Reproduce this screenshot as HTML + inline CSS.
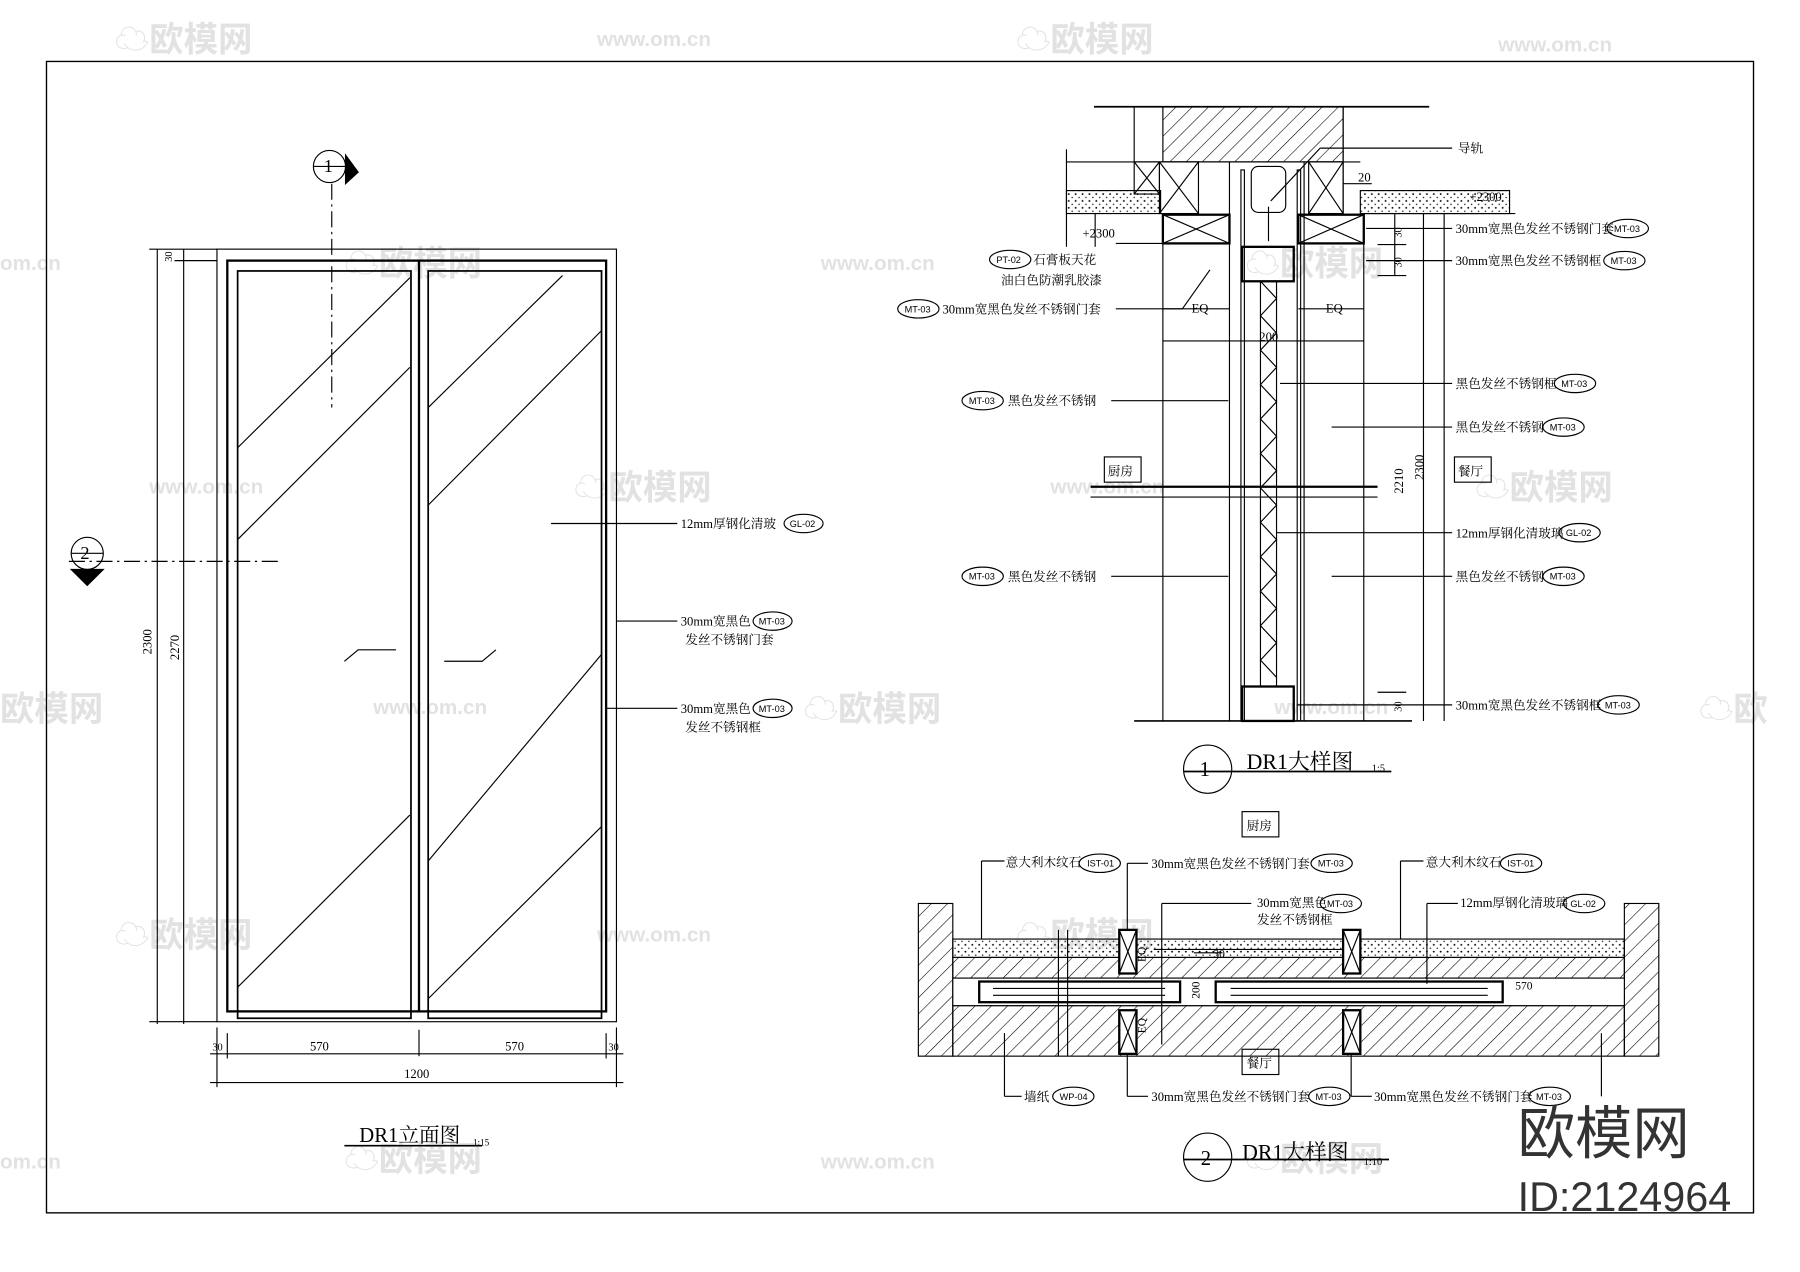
<!DOCTYPE html>
<html><head><meta charset="utf-8"><style>
html,body{margin:0;padding:0;background:#fff;}
svg{display:block;}
text{font-family:"Liberation Serif","Noto Serif CJK SC","Noto Sans CJK SC",serif;fill:#000;}
.wm text{fill:#e2e2e2;font-family:"Liberation Sans","Noto Sans CJK SC",sans-serif;font-weight:bold;}
.lab text{font-family:"Liberation Sans",sans-serif;}
.brand{font-family:"Liberation Sans","Noto Sans CJK SC",sans-serif !important;fill:#333 !important;}
</style></head><body>
<svg width="1800" height="1272" viewBox="0 0 1568 1108" xmlns="http://www.w3.org/2000/svg">
<defs>
<pattern id="h" width="10" height="10" patternUnits="userSpaceOnUse" patternTransform="rotate(45)"><line x1="0" y1="0" x2="0" y2="10" stroke="#000" stroke-width="1"/></pattern>
<pattern id="d" width="6" height="6" patternUnits="userSpaceOnUse"><circle cx="1" cy="1" r="0.8" fill="#000"/><circle cx="4" cy="4" r="0.6" fill="#000"/></pattern>
</defs>
<rect width="1568" height="1108" fill="#fff"/>
<!-- watermarks -->
<g class="wm" font-size="30">
<text x="100" y="45">☁欧模网</text><text x="885" y="45">☁欧模网</text><text x="1305" y="45" font-size="18">www.om.cn</text><text x="520" y="40" font-size="18">www.om.cn</text>
<text x="300" y="240">☁欧模网</text><text x="1085" y="240">☁欧模网</text><text x="0" y="235" font-size="18">om.cn</text><text x="715" y="235" font-size="18">www.om.cn</text>
<text x="500" y="435">☁欧模网</text><text x="1285" y="435">☁欧模网</text><text x="130" y="430" font-size="18">www.om.cn</text><text x="915" y="430" font-size="18">www.om.cn</text>
<text x="0" y="628">欧模网</text><text x="700" y="628">☁欧模网</text><text x="1480" y="628">☁欧</text><text x="325" y="622" font-size="18">www.om.cn</text><text x="1110" y="622" font-size="18">www.om.cn</text>
<text x="100" y="825">☁欧模网</text><text x="885" y="825">☁欧模网</text><text x="520" y="820" font-size="18">www.om.cn</text>
<text x="300" y="1020">☁欧模网</text><text x="1085" y="1020">☁欧模网</text><text x="0" y="1018" font-size="18">om.cn</text><text x="715" y="1018" font-size="18">www.om.cn</text>
</g>
<rect x="40.5" y="53.5" width="1487" height="1003" fill="none" stroke="#000" stroke-width="1.2"/>

<g stroke="#000" fill="none" stroke-width="1">
<!-- Left elevation -->
<rect x="189" y="217" width="348" height="673"/>
<rect x="198" y="227" width="330" height="654" stroke-width="2"/>
<rect x="207" y="236" width="151" height="651" stroke-width="1.5"/>
<rect x="373" y="236" width="151" height="651" stroke-width="1.5"/>
<line x1="365" y1="227" x2="365" y2="881" stroke-width="2"/>
<line x1="207" y1="390" x2="357" y2="242"/><line x1="207" y1="470" x2="357" y2="320"/><line x1="207" y1="860" x2="357" y2="710"/>
<line x1="373" y1="355" x2="490" y2="240"/><line x1="373" y1="440" x2="524" y2="288"/><line x1="373" y1="750" x2="524" y2="570"/><line x1="373" y1="870" x2="524" y2="720"/>
<polyline points="300,576 312,566 345,566"/><polyline points="387,576 420,576 432,566" />
<line x1="289" y1="160" x2="289" y2="355" stroke-dasharray="14,4,2,4"/>
<line x1="60" y1="489" x2="245" y2="489" stroke-dasharray="14,4,2,4"/>
<circle cx="287" cy="145" r="14"/><line x1="273" y1="145" x2="301" y2="145"/><polygon points="301,135 312,150 301,160" fill="#000"/>
<circle cx="76" cy="482" r="14"/><line x1="62" y1="482" x2="90" y2="482"/><polygon points="62,496 90,496 76,510" fill="#000"/>
<line x1="137" y1="217" x2="137" y2="892"/><line x1="160" y1="217" x2="160" y2="892"/>
<line x1="130" y1="217" x2="189" y2="217"/><line x1="152" y1="227" x2="189" y2="227"/><line x1="130" y1="890" x2="189" y2="890"/>
<line x1="189" y1="895" x2="189" y2="947"/><line x1="537" y1="895" x2="537" y2="947"/><line x1="365" y1="897" x2="365" y2="920"/>
<line x1="183" y1="918" x2="543" y2="918"/><line x1="183" y1="943" x2="543" y2="943"/>
<line x1="198" y1="900" x2="198" y2="922"/><line x1="528" y1="900" x2="528" y2="922"/>
<line x1="300" y1="998" x2="420" y2="998" stroke-width="1.5"/>
<line x1="480" y1="456" x2="590" y2="456"/><line x1="537" y1="541" x2="590" y2="541"/><line x1="527" y1="617" x2="590" y2="617"/>
</g>
<g font-size="11">
<text x="150" y="228" font-size="9" transform="rotate(-90 150 228)">30</text>
<text x="132" y="570" transform="rotate(-90 132 570)">2300</text><text x="156" y="575" transform="rotate(-90 156 575)">2270</text>
<text x="270" y="915">570</text><text x="440" y="915">570</text><text x="352" y="939">1200</text>
<text x="185" y="915" font-size="9">30</text><text x="530" y="915" font-size="9">30</text>
<text x="593" y="460">12mm厚钢化清玻</text><text x="593" y="545">30mm宽黑色</text><text x="597" y="561">发丝不锈钢门套</text>
<text x="593" y="621">30mm宽黑色</text><text x="597" y="637">发丝不锈钢框</text>
<text x="282" y="150" font-size="16">1</text><text x="70" y="487" font-size="16">2</text>
<text x="313" y="995" font-size="18">DR1立面图</text><text x="412" y="998" font-size="8">1:15</text>
</g>
<g fill="none" stroke="#000"><ellipse cx="700" cy="456" rx="17" ry="8"/><ellipse cx="673" cy="541" rx="17" ry="8"/><ellipse cx="673" cy="617" rx="17" ry="8"/></g>
<g font-size="8" class="lab"><text x="688" y="459">GL-02</text><text x="661" y="544">MT-03</text><text x="661" y="620">MT-03</text></g>

<!-- Section 1 -->
<rect x="1013" y="93" width="157" height="48" fill="url(#h)" stroke="#000"/>
<rect x="929" y="166" width="82" height="20" fill="url(#d)" stroke="#000"/>
<rect x="1185" y="166" width="130" height="20" fill="url(#d)" stroke="#000"/>
<g stroke="#000" fill="none">
<line x1="953" y1="93" x2="1245" y2="93" stroke-width="1.5"/>
<line x1="988" y1="93" x2="988" y2="141"/><line x1="1170" y1="93" x2="1170" y2="186"/>
<line x1="929" y1="141" x2="1185" y2="141"/><line x1="929" y1="130" x2="929" y2="215"/>
<rect x="988" y="141" width="22" height="28"/><line x1="988" y1="141" x2="1010" y2="169"/><line x1="1010" y1="141" x2="988" y2="169"/>
<rect x="1010" y="141" width="34" height="45"/><line x1="1010" y1="141" x2="1044" y2="186"/><line x1="1044" y1="141" x2="1010" y2="186"/>
<rect x="1140" y="141" width="30" height="45"/><line x1="1140" y1="141" x2="1170" y2="186"/><line x1="1170" y1="141" x2="1140" y2="186"/>
<rect x="1013" y="187" width="58" height="25" stroke-width="2"/><line x1="1013" y1="187" x2="1071" y2="212"/><line x1="1071" y1="187" x2="1013" y2="212"/>
<rect x="1131" y="187" width="57" height="25" stroke-width="2"/><line x1="1131" y1="187" x2="1188" y2="212"/><line x1="1188" y1="187" x2="1131" y2="212"/>
<rect x="1090" y="145" width="30" height="40" rx="6"/><line x1="1105" y1="180" x2="1105" y2="210"/>
<rect x="1081" y="148" width="3" height="480"/>
<rect x="1130" y="148" width="3" height="480"/>
<rect x="1082" y="215" width="45" height="30" stroke-width="2"/>
<rect x="1082" y="598" width="45" height="30" stroke-width="2"/>
<line x1="1098" y1="245" x2="1098" y2="598"/><line x1="1112" y1="245" x2="1112" y2="598"/>
<polyline points="1098,245 1112,260 1098,275 1112,290 1098,305 1112,320 1098,335 1112,350 1098,365 1112,380 1098,395 1112,410 1098,425 1112,440 1098,455 1112,470 1098,485 1112,500 1098,515 1112,530 1098,545 1112,560 1098,575 1112,590"/>
<line x1="1013" y1="212" x2="1013" y2="628"/><line x1="1188" y1="212" x2="1188" y2="628"/>
<line x1="1071" y1="141" x2="1071" y2="628"/><line x1="1136" y1="141" x2="1136" y2="628"/>
<line x1="988" y1="628" x2="1230" y2="628" stroke-width="1.5"/>
<line x1="1013" y1="269" x2="1071" y2="269"/><line x1="1131" y1="269" x2="1188" y2="269"/><line x1="1013" y1="297" x2="1188" y2="297"/>
<line x1="950" y1="424" x2="1200" y2="424" stroke-width="2"/><line x1="950" y1="433" x2="1200" y2="433"/>
<line x1="1258" y1="186" x2="1258" y2="628"/><line x1="1240" y1="186" x2="1240" y2="628"/><line x1="1215" y1="186" x2="1215" y2="240"/>
<line x1="1188" y1="186" x2="1320" y2="186"/><line x1="1200" y1="213" x2="1225" y2="213"/><line x1="1200" y1="240" x2="1225" y2="240"/><line x1="1200" y1="603" x2="1225" y2="603"/>
<line x1="1170" y1="160" x2="1195" y2="160"/>
<line x1="1150" y1="129" x2="1265" y2="129"/><line x1="1150" y1="129" x2="1107" y2="175"/>
<line x1="954" y1="186" x2="954" y2="215"/><line x1="1190" y1="199" x2="1265" y2="199"/><line x1="1190" y1="227" x2="1265" y2="227"/>
<line x1="1115" y1="334" x2="1265" y2="334"/><line x1="1160" y1="372" x2="1265" y2="372"/><line x1="1112" y1="464" x2="1265" y2="464"/><line x1="1160" y1="502" x2="1265" y2="502"/><line x1="1130" y1="614" x2="1265" y2="614"/>
<line x1="968" y1="349" x2="1070" y2="349"/><line x1="968" y1="502" x2="1070" y2="502"/><line x1="972" y1="212" x2="1050" y2="212"/>
<line x1="972" y1="269" x2="1030" y2="269"/><line x1="1030" y1="269" x2="1054" y2="235"/>
<rect x="962" y="398" width="32" height="22"/><rect x="1267" y="398" width="32" height="22"/>
<circle cx="1052" cy="670" r="21"/><line x1="1031" y1="672" x2="1212" y2="672" stroke-width="1.5"/>
</g>
<g fill="none" stroke="#000"><ellipse cx="880" cy="226" rx="18" ry="8"/><ellipse cx="800" cy="269" rx="18" ry="8"/><ellipse cx="856" cy="349" rx="18" ry="8"/><ellipse cx="856" cy="502" rx="18" ry="8"/>
<ellipse cx="1418" cy="199" rx="18" ry="8"/><ellipse cx="1415" cy="227" rx="18" ry="8"/><ellipse cx="1372" cy="334" rx="18" ry="8"/><ellipse cx="1362" cy="372" rx="18" ry="8"/><ellipse cx="1376" cy="464" rx="18" ry="8"/><ellipse cx="1362" cy="502" rx="18" ry="8"/><ellipse cx="1410" cy="614" rx="18" ry="8"/></g>
<g font-size="8" class="lab"><text x="868" y="229">PT-02</text><text x="788" y="272">MT-03</text><text x="844" y="352">MT-03</text><text x="844" y="505">MT-03</text>
<text x="1406" y="202">MT-03</text><text x="1403" y="230">MT-03</text><text x="1360" y="337">MT-03</text><text x="1350" y="375">MT-03</text><text x="1364" y="467">GL-02</text><text x="1350" y="505">MT-03</text><text x="1398" y="617">MT-03</text></g>
<g font-size="11">
<text x="1270" y="133">导轨</text><text x="1183" y="158">20</text><text x="1280" y="175">+2300</text><text x="943" y="207">+2300</text>
<text x="900" y="230">石膏板天花</text><text x="872" y="248">油白色防潮乳胶漆</text><text x="821" y="273">30mm宽黑色发丝不锈钢门套</text>
<text x="878" y="353">黑色发丝不锈钢</text><text x="878" y="506">黑色发丝不锈钢</text>
<text x="1268" y="203">30mm宽黑色发丝不锈钢门套</text><text x="1268" y="231">30mm宽黑色发丝不锈钢框</text>
<text x="1268" y="338">黑色发丝不锈钢框</text><text x="1268" y="376">黑色发丝不锈钢</text><text x="1268" y="468">12mm厚钢化清玻璃</text><text x="1268" y="506">黑色发丝不锈钢</text><text x="1268" y="618">30mm宽黑色发丝不锈钢框</text>
<text x="1038" y="272">EQ</text><text x="1155" y="272">EQ</text><text x="1097" y="297">200</text>
<text x="965" y="414">厨房</text><text x="1270" y="414">餐厅</text>
<text x="1222" y="430" transform="rotate(-90 1222 430)">2210</text><text x="1240" y="418" transform="rotate(-90 1240 418)">2300</text>
<text x="1221" y="207" font-size="9" transform="rotate(-90 1221 207)">30</text><text x="1221" y="233" font-size="9" transform="rotate(-90 1221 233)">30</text><text x="1221" y="620" font-size="9" transform="rotate(-90 1221 620)">30</text>
<text x="1045" y="676" font-size="18">1</text><text x="1086" y="670" font-size="19">DR1大样图</text><text x="1195" y="672" font-size="9">1:5</text>
</g>

<!-- Section 2 -->
<rect x="800" y="787" width="30" height="133" fill="url(#h)" stroke="#000"/>
<rect x="1415" y="787" width="30" height="133" fill="url(#h)" stroke="#000"/>
<rect x="830" y="818" width="585" height="16" fill="url(#d)" stroke="#000"/>
<rect x="830" y="834" width="585" height="18" fill="url(#h)" stroke="#000"/>
<rect x="830" y="876" width="585" height="44" fill="url(#h)" stroke="#000"/>
<rect x="830" y="852" width="585" height="24" fill="#fff" stroke="#000"/>
<g stroke="#000" fill="none">
<rect x="853" y="855" width="175" height="18" stroke-width="2"/><line x1="865" y1="861" x2="1015" y2="861"/><line x1="865" y1="867" x2="1015" y2="867"/>
<rect x="1059" y="855" width="250" height="18" stroke-width="2"/><line x1="1072" y1="861" x2="1296" y2="861"/><line x1="1072" y1="867" x2="1296" y2="867"/>
<rect x="975" y="810" width="15" height="38" fill="#fff" stroke-width="2"/><line x1="975" y1="810" x2="990" y2="848"/><line x1="990" y1="810" x2="975" y2="848"/>
<rect x="975" y="880" width="15" height="38" fill="#fff" stroke-width="2"/><line x1="975" y1="880" x2="990" y2="918"/><line x1="990" y1="880" x2="975" y2="918"/>
<rect x="1170" y="810" width="15" height="38" fill="#fff" stroke-width="2"/><line x1="1170" y1="810" x2="1185" y2="848"/><line x1="1185" y1="810" x2="1170" y2="848"/>
<rect x="1170" y="880" width="15" height="38" fill="#fff" stroke-width="2"/><line x1="1170" y1="880" x2="1185" y2="918"/><line x1="1185" y1="880" x2="1170" y2="918"/>
<line x1="922" y1="810" x2="922" y2="920"/><line x1="930" y1="810" x2="930" y2="920"/>
<line x1="855" y1="750" x2="855" y2="818"/><line x1="855" y1="750" x2="875" y2="750"/>
<line x1="982" y1="752" x2="982" y2="810"/><line x1="982" y1="752" x2="1000" y2="752"/>
<line x1="1012" y1="787" x2="1012" y2="910"/><line x1="1012" y1="787" x2="1090" y2="787"/>
<line x1="1220" y1="750" x2="1220" y2="818"/><line x1="1220" y1="750" x2="1240" y2="750"/>
<line x1="1243" y1="787" x2="1243" y2="857"/><line x1="1243" y1="787" x2="1270" y2="787"/>
<line x1="1005" y1="827" x2="1170" y2="827"/><line x1="1040" y1="830" x2="1065" y2="830"/>
<line x1="875" y1="900" x2="875" y2="955"/><line x1="875" y1="955" x2="890" y2="955"/>
<line x1="982" y1="918" x2="982" y2="955"/><line x1="982" y1="955" x2="1000" y2="955"/>
<line x1="1177" y1="918" x2="1177" y2="955"/><line x1="1177" y1="955" x2="1195" y2="955"/>
<line x1="1395" y1="900" x2="1395" y2="955"/>
<rect x="1082" y="914" width="32" height="22"/><rect x="1082" y="707" width="32" height="22"/>
<circle cx="1052" cy="1008" r="21"/><line x1="1031" y1="1010" x2="1210" y2="1010" stroke-width="1.5"/>
</g>
<g fill="none" stroke="#000"><ellipse cx="958" cy="752" rx="18" ry="8"/><ellipse cx="1160" cy="752" rx="18" ry="8"/><ellipse cx="1168" cy="787" rx="18" ry="8"/><ellipse cx="1325" cy="752" rx="18" ry="8"/><ellipse cx="1380" cy="787" rx="18" ry="8"/><ellipse cx="935" cy="955" rx="18" ry="8"/><ellipse cx="1158" cy="955" rx="18" ry="8"/><ellipse cx="1350" cy="955" rx="18" ry="8"/></g>
<g font-size="8" class="lab"><text x="947" y="755">IST-01</text><text x="1148" y="755">MT-03</text><text x="1156" y="790">MT-03</text><text x="1313" y="755">IST-01</text><text x="1368" y="790">GL-02</text><text x="923" y="958">WP-04</text><text x="1146" y="958">MT-03</text><text x="1338" y="958">MT-03</text></g>
<g font-size="11">
<text x="876" y="755">意大利木纹石</text><text x="1003" y="756">30mm宽黑色发丝不锈钢门套</text>
<text x="1095" y="790">30mm宽黑色</text><text x="1095" y="805">发丝不锈钢框</text>
<text x="1242" y="755">意大利木纹石</text><text x="1272" y="790">12mm厚钢化清玻璃</text>
<text x="892" y="959">墙纸</text><text x="1003" y="959">30mm宽黑色发丝不锈钢门套</text><text x="1197" y="959">30mm宽黑色发丝不锈钢门套</text>
<text x="1086" y="723">厨房</text><text x="1086" y="930">餐厅</text>
<text x="1057" y="834" font-size="10">30</text><text x="1320" y="862" font-size="10">570</text>
<text x="1045" y="870" font-size="10" transform="rotate(-90 1045 870)">200</text>
<text x="998" y="838" font-size="10" transform="rotate(-90 998 838)">EQ</text><text x="998" y="900" font-size="10" transform="rotate(-90 998 900)">EQ</text>
<text x="1046" y="1015" font-size="18">2</text><text x="1082" y="1010" font-size="19">DR1大样图</text><text x="1188" y="1015" font-size="9">1:10</text>
</g>
<text x="1322" y="1005" font-size="50" class="brand">欧模网</text>
<text x="1322" y="1055" font-size="36" class="brand">ID:2124964</text>
</svg>
</body></html>
